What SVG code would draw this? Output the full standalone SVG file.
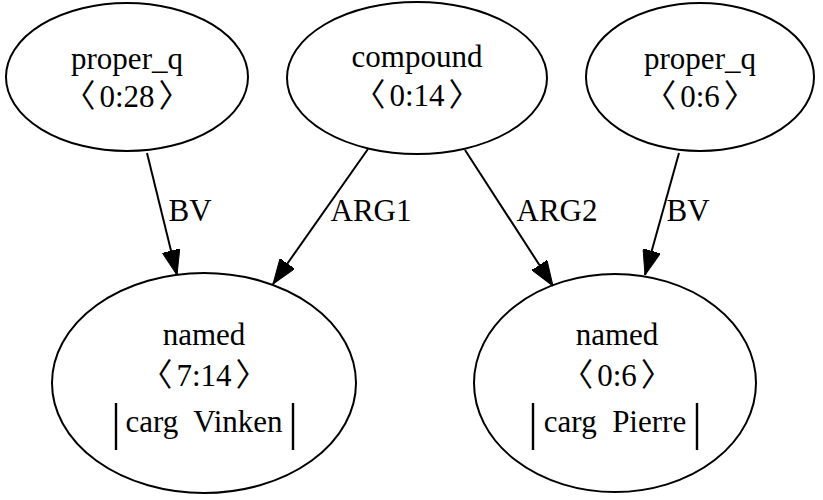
<svg xmlns="http://www.w3.org/2000/svg" width="823" height="500" viewBox="0 0 823 500">
<style>
.node ellipse{fill:none;stroke:#000;stroke-width:2}
.node text,.lbl{font-family:"Liberation Serif","DejaVu Serif",serif;font-size:31px;fill:#000;text-anchor:middle;white-space:pre}
.br{font-family:"Liberation Serif","Noto Sans CJK JP",serif;font-size:32px}
.bar{stroke:#000;stroke-width:2.4}
.edge{stroke:#000;stroke-width:2;fill:none}
</style>
<defs>
<marker id="ah" viewBox="0 0 25 18" refX="25" refY="9" markerWidth="25" markerHeight="18" markerUnits="userSpaceOnUse" orient="auto">
<path d="M0,0 L25,9 L0,18 Z" fill="#000" stroke="#000" stroke-width="1"/>
</marker>
</defs>
<rect width="823" height="500" fill="#fff"/>
<g id="connectors">
<line class="edge" x1="147" y1="153" x2="177" y2="275" marker-end="url(#ah)"/>
<text class="lbl" x="190" y="221">BV</text>
<line class="edge" x1="368" y1="149" x2="273" y2="284" marker-end="url(#ah)"/>
<text class="lbl" x="371" y="221">ARG1</text>
<line class="edge" x1="465" y1="150" x2="553" y2="286" marker-end="url(#ah)"/>
<text class="lbl" x="557" y="221">ARG2</text>
<line class="edge" x1="679" y1="153" x2="645" y2="275" marker-end="url(#ah)"/>
<text class="lbl" x="688" y="221">BV</text>
</g>
<g id="n1" class="node">
<ellipse cx="127" cy="77" rx="121" ry="74"/>
<text x="127" y="69">proper_q</text>
<text x="127" y="107"><tspan class="br">〈</tspan><tspan dx="4">0:28</tspan><tspan class="br" dx="4">〉</tspan></text>
</g>
<g id="n2" class="node">
<ellipse cx="417" cy="78" rx="130" ry="76"/>
<text x="417" y="67">compound</text>
<text x="417" y="106"><tspan class="br">〈</tspan><tspan dx="4">0:14</tspan><tspan class="br" dx="4">〉</tspan></text>
</g>
<g id="n3" class="node">
<ellipse cx="700" cy="77" rx="114" ry="74"/>
<text x="700" y="69">proper_q</text>
<text x="700" y="107"><tspan class="br">〈</tspan><tspan dx="4">0:6</tspan><tspan class="br" dx="4">〉</tspan></text>
</g>
<g id="n4" class="node">
<ellipse cx="204" cy="383" rx="152" ry="110"/>
<text x="204" y="345">named</text>
<text x="204" y="386"><tspan class="br">〈</tspan><tspan dx="4">7:14</tspan><tspan class="br" dx="4">〉</tspan></text>
<text x="204" y="432">carg  Vinken</text>
<line class="bar" x1="116" y1="403" x2="116" y2="450"/>
<line class="bar" x1="293" y1="403" x2="293" y2="450"/>
</g>
<g id="n5" class="node">
<ellipse cx="615" cy="383" rx="141" ry="109"/>
<text x="617" y="345">named</text>
<text x="617" y="386"><tspan class="br">〈</tspan><tspan dx="4">0:6</tspan><tspan class="br" dx="4">〉</tspan></text>
<text x="615" y="432">carg  Pierre</text>
<line class="bar" x1="533" y1="403" x2="533" y2="450"/>
<line class="bar" x1="697" y1="403" x2="697" y2="450"/>
</g>
</svg>
